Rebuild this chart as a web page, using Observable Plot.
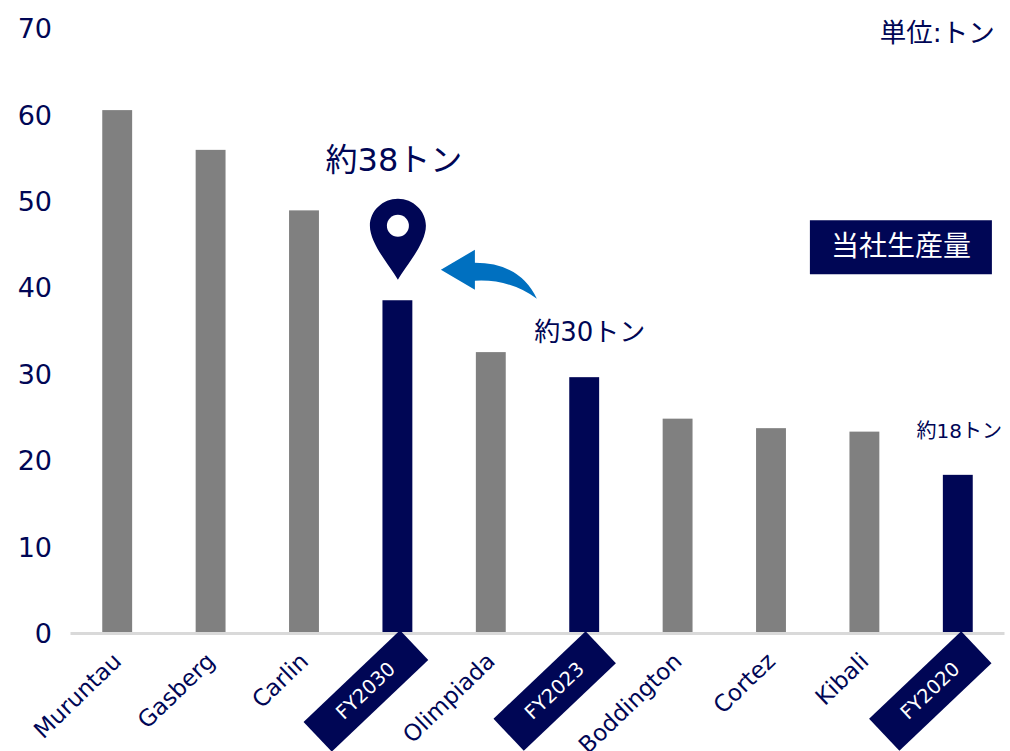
<!DOCTYPE html>
<html><head><meta charset="utf-8">
<script src="https://cdn.jsdelivr.net/npm/d3@7"></script>
<script src="https://cdn.jsdelivr.net/npm/@observablehq/plot@0.6"></script>
<style>html,body{margin:0;padding:0;background:#fff;overflow:hidden}svg{display:block}</style>
</head><body><div id="chart"></div>
<script>
const categories = ["Muruntau","Gasberg","Carlin","FY2030","Olimpiada","FY2023","Boddington","Cortez","Kibali","FY2020"];
const tonnes = [60.5,55.9,48.9,38.5,32.5,29.6,24.8,23.7,23.3,18.3];
const own = ["FY2030","FY2023","FY2020"];
const yTicks = [0,10,20,30,40,50,60,70];
const NAVY = "#000655", FONT = "'DejaVu Sans','Noto Sans CJK JP',sans-serif";
const table = categories.map((c,i)=>({c, v:tonnes[i], own:own.includes(c)}));

const sym = draw => ({draw});
const tagLong = sym(c=>{c.rect(-66.5,-20.5,133,41);});
const tagShort = sym(c=>{c.rect(-63.5,-22,127,44);});
const boxSym = sym(c=>{c.rect(-91,-27,182,54);});
const pinSym = sym(c=>{
  c.moveTo(0,54);
  c.bezierCurveTo(-8,40,-28,18,-28,0);
  c.bezierCurveTo(-28,-15,-15,-27,0,-27);
  c.bezierCurveTo(15,-27,28,-15,28,0);
  c.bezierCurveTo(28,18,8,40,0,54);
  c.closePath();
});
const holeSym = sym(c=>{c.moveTo(11,0);c.arc(0,0,11,0,2*Math.PI);c.closePath();});
const arrowSym = sym(c=>{
  c.moveTo(-34,0);c.lineTo(0,-20);c.lineTo(0,-7);
  c.quadraticCurveTo(45,-7,62,29);
  c.quadraticCurveTo(35,9,0,11);
  c.lineTo(0,20);c.closePath();
});

const tagMarks = [["FY2030",tagLong,-32],["FY2023",tagShort,-30],["FY2020",tagShort,-28]].flatMap(([t,s,dx])=>[
  Plot.dot([t],{x:d=>d,y:()=>0,symbol:s,fill:NAVY,stroke:"none",rotate:-43.5,dx,dy:57.5}),
  Plot.text([t],{x:d=>d,y:()=>0,text:d=>d,fill:"#fff",fontSize:19.5,rotate:-43.5,dx,dy:57.5})
]);

const chart = Plot.plot({
  width:1010, height:751,
  marginLeft:70.5, marginRight:5.5, marginTop:28, marginBottom:118,
  style:{fontFamily:FONT, background:"#fff", overflow:"visible"},
  x:{domain:categories, paddingInner:0.68, paddingOuter:0.34, round:false, label:null},
  y:{domain:[0,70], label:null},
  marks:[
    Plot.barY(table,{x:"c",y:"v",fill:d=>d.own?NAVY:"#808080"}),
    Plot.ruleY([0],{stroke:"#d9d9d9",strokeWidth:3}),
    Plot.axisY({ticks:yTicks,tickSize:0,tickPadding:19,fontSize:27,color:NAVY,label:null,dy:1,tickFormat:d=>d}),
    Plot.axisX({tickSize:0,tickRotate:-44,textAnchor:"end",tickPadding:24,dx:0,fontSize:23,color:NAVY,label:null,
      tickFormat:d=>own.includes(d)?"":d}),
    ...tagMarks,
    Plot.dot(["FY2030"],{x:d=>d,y:()=>38.5,symbol:pinSym,fill:NAVY,stroke:"none",dy:-75}),
    Plot.dot(["FY2030"],{x:d=>d,y:()=>38.5,symbol:holeSym,fill:"#fff",stroke:"none",dy:-75}),
    Plot.dot(["FY2030"],{x:d=>d,y:()=>38.5,symbol:arrowSym,fill:"#0070c0",stroke:"none",dx:77,dy:-31}),
    Plot.text(["約38トン"],{x:()=>"FY2030",y:()=>38.5,text:d=>d,fill:NAVY,fontSize:32,dx:-4,dy:-140}),
    Plot.text(["約30トン"],{x:()=>"FY2023",y:()=>29.6,text:d=>d,fill:NAVY,fontSize:26,dx:5,dy:-45}),
    Plot.text(["約18トン"],{x:()=>"FY2020",y:()=>18.3,text:d=>d,fill:NAVY,fontSize:20,dx:1,dy:-44}),
    Plot.text(["単位:トン"],{x:()=>"FY2020",y:()=>70,text:d=>d,fill:NAVY,fontSize:26.5,dx:-21,dy:5}),
    Plot.dot(["当社生産量"],{x:()=>"Kibali",y:()=>44.7,symbol:boxSym,fill:NAVY,stroke:"none",dx:36}),
    Plot.text(["当社生産量"],{x:()=>"Kibali",y:()=>44.7,text:d=>d,fill:"#fff",fontSize:28,dx:36})
  ]
});
document.getElementById("chart").append(chart);
</script></body></html>
